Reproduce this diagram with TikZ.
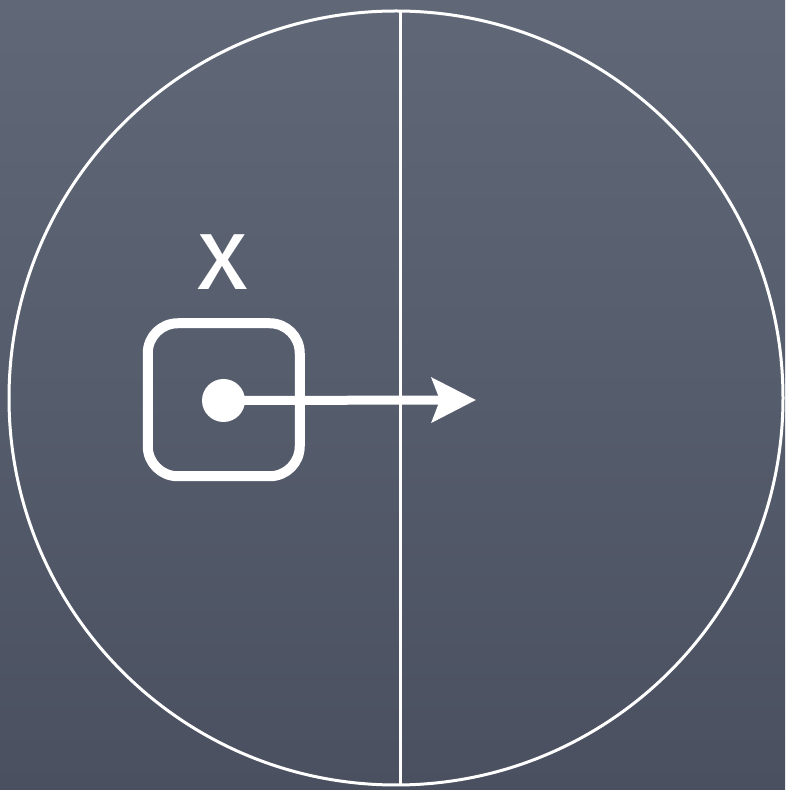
\documentclass[tikz,border=0pt]{standalone}
\usepackage{fontspec}
\setsansfont{Fira Sans}
\usepackage{xcolor}
\usetikzlibrary{arrows.meta,positioning,calc}
\definecolor{slatetop}{RGB}{96,104,120}
\definecolor{slatebot}{RGB}{74,80,95}

\begin{document}
\begin{tikzpicture}[
    x=1pt, y=1pt,
    chalk/.style={draw=white, line width=3pt},
    ring/.style={chalk, circle, minimum size=774pt, inner sep=0pt, outer sep=0pt},
    cell/.style={draw=white, line width=10pt, rounded corners=30pt, minimum width=152pt, minimum height=153pt, inner sep=0pt, outer sep=0pt},
    dot/.style={circle, fill=white, minimum size=43pt, inner sep=0pt},
    lbl/.style={text=white, font=\sffamily\fontsize{104}{104}\selectfont, inner sep=0pt},
    vec/.style={white, line width=9pt, -{Stealth[length=44pt,width=44pt,inset=8pt]}},
]
% background
\shade[top color=slatetop, bottom color=slatebot] (0,0) rectangle (785,790);
\useasboundingbox (0,0) rectangle (785,790);

\node[ring] (rng) at (396,392) {};
\draw[chalk] ([xshift=4pt]rng.north) -- ([xshift=4pt]rng.south);

\node[cell] (box) at (223.75,390.25) {};
\node[dot] (pos) at (223.5,389.5) {};
\node[lbl] (name) at (222.5,528) {x};

% displacement
\coordinate (tip) at (476,390);
\draw[vec] (pos.center) -- (tip);
\end{tikzpicture}
\end{document}
